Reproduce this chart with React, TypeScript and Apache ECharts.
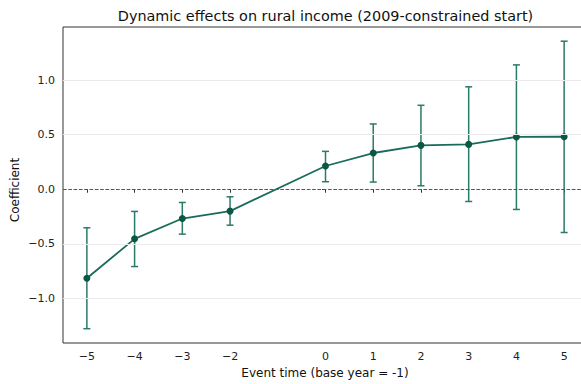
import React, { useEffect, useRef } from "react";
import * as echarts from "echarts";

const eventTimes = [-5, -4, -3, -2, 0, 1, 2, 3, 4, 5];
const coefs = [-0.815, -0.454, -0.268, -0.2, 0.213, 0.332, 0.402, 0.411, 0.479, 0.481];
const lower = [-1.277, -0.708, -0.411, -0.329, 0.069, 0.066, 0.032, -0.112, -0.185, -0.396];
const upper = [-0.353, -0.203, -0.121, -0.069, 0.347, 0.598, 0.769, 0.938, 1.139, 1.356];
const xTicks = [-5, -4, -3, -2, 0, 1, 2, 3, 4, 5];
const yTicks = [-1.0, -0.5, 0.0, 0.5, 1.0];
const gridValues = [-1.0, -0.5, 0.5, 1.0];

const titleText = "Dynamic effects on rural income (2009-constrained start)";
const xLabelText = "Event time (base year = -1)";
const yLabelText = "Coefficient";

const FONT = "DejaVu Sans";
const LINE_COLOR = "#1a6b5a";
const MARK_COLOR = "#0b5744";
const ERR_COLOR = "#2a7a68";

const fmtNum = (v: number, digits: number) => {
  const s = Math.abs(v).toFixed(digits);
  return v < 0 ? "\u2212" + s : s;
};

export default function App() {
  const ref = useRef<HTMLDivElement>(null);
  useEffect(() => {
    if (!ref.current) return;
    const chart = echarts.init(ref.current, null, { renderer: "svg" });
    const errData = eventTimes.map((t, i) => [t, lower[i], upper[i]]);
    const lineData = eventTimes.map((t, i) => [t, coefs[i]]);
    chart.setOption({
      animation: false,
      backgroundColor: "#ffffff",
      textStyle: { fontFamily: FONT },
      grid: {
        left: 63,
        top: 27,
        width: 525,
        height: 316,
        outerBoundsMode: "none",
        containLabel: false,
        show: true,
        borderColor: "#333333",
        borderWidth: 1,
        backgroundColor: "transparent",
      },
      xAxis: {
        type: "value",
        min: -5.5,
        max: 5.5,
        axisLine: { show: false },
        splitLine: { show: false },
        axisTick: {
          show: true,
          customValues: xTicks,
          length: 3.5,
          lineStyle: { color: "#333333", width: 1 },
        },
        axisLabel: {
          customValues: xTicks,
          formatter: (v: number) => fmtNum(v, 0),
          fontFamily: FONT,
          fontSize: 11,
          color: "#222222",
          margin: 8,
        },
      },
      yAxis: {
        type: "value",
        min: -1.408,
        max: 1.486,
        axisLine: { show: false },
        splitLine: { show: false },
        axisTick: {
          show: true,
          customValues: yTicks,
          length: 3.5,
          lineStyle: { color: "#333333", width: 1 },
        },
        axisLabel: {
          customValues: yTicks,
          formatter: (v: number) => fmtNum(v, 1),
          fontFamily: FONT,
          fontSize: 11,
          color: "#222222",
          margin: 8,
        },
      },
      graphic: [
        {
          type: "text",
          x: 325.5,
          y: 16,
          style: {
            text: titleText,
            fontFamily: FONT,
            fontSize: 14.4,
            fill: "#111111",
            align: "center",
            verticalAlign: "middle",
          },
        },
        {
          type: "text",
          x: 325,
          y: 373,
          style: {
            text: xLabelText,
            fontFamily: FONT,
            fontSize: 12,
            fill: "#111111",
            align: "center",
            verticalAlign: "middle",
          },
        },
        {
          type: "text",
          x: 15,
          y: 190,
          rotation: Math.PI / 2,
          style: {
            text: yLabelText,
            fontFamily: FONT,
            fontSize: 12,
            fill: "#111111",
            align: "center",
            verticalAlign: "middle",
          },
        },
      ],
      series: [
        {
          type: "line",
          data: [],
          silent: true,
          z: 1,
          markLine: {
            silent: true,
            symbol: "none",
            label: { show: false },
            lineStyle: { color: "#ebebeb", width: 1, type: "solid" },
            data: gridValues.map((v) => ({ yAxis: v })),
          },
        },
        {
          type: "line",
          data: [],
          silent: true,
          z: 2,
          markLine: {
            silent: true,
            symbol: "none",
            label: { show: false },
            lineStyle: { color: "#555555", width: 1, type: [3.7, 1.6] },
            data: [{ yAxis: 0 }],
          },
        },
        {
          type: "custom",
          z: 3,
          data: errData,
          renderItem: (params: any, api: any) => {
            const x = api.value(0);
            const lo = api.coord([x, api.value(1)]);
            const hi = api.coord([x, api.value(2)]);
            const cap = 3.5;
            const style = { stroke: ERR_COLOR, lineWidth: 1.5 };
            return {
              type: "group",
              children: [
                { type: "line", shape: { x1: lo[0], y1: lo[1], x2: hi[0], y2: hi[1] }, style },
                { type: "line", shape: { x1: lo[0] - cap, y1: lo[1], x2: lo[0] + cap, y2: lo[1] }, style },
                { type: "line", shape: { x1: hi[0] - cap, y1: hi[1], x2: hi[0] + cap, y2: hi[1] }, style },
              ],
            };
          },
        },
        {
          type: "line",
          z: 4,
          data: lineData,
          symbol: "circle",
          symbolSize: 7,
          showSymbol: true,
          itemStyle: { color: MARK_COLOR, borderWidth: 0 },
          lineStyle: { color: LINE_COLOR, width: 1.8 },
        },
      ],
    });
    return () => chart.dispose();
  }, []);
  return (
    <div
      ref={ref}
      style={{ position: "absolute", left: 0, top: 0, width: 581, height: 384 }}
    />
  );
}
